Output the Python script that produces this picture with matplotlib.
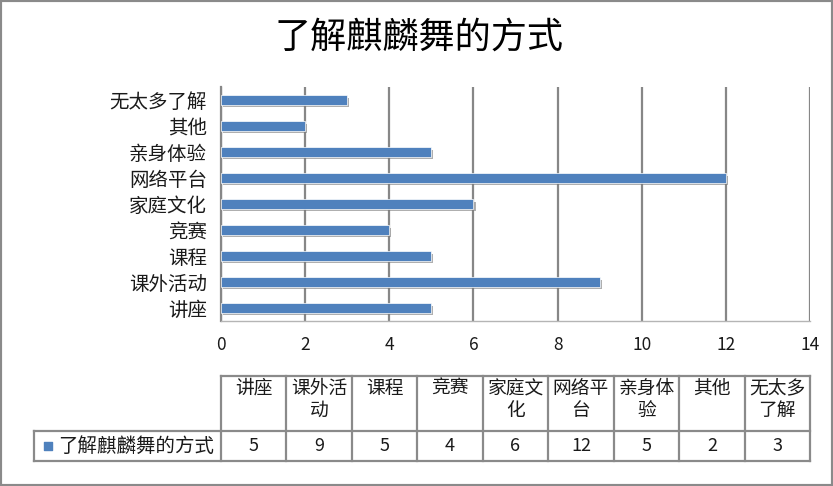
import matplotlib
matplotlib.use("Agg")
import matplotlib.pyplot as plt
from matplotlib import patheffects as pe
from matplotlib.patches import Rectangle

plt.rcParams['font.family'] = ['Noto Sans CJK SC', 'DejaVu Sans']

# data
title = '了解麒麟舞的方式'
series_name = '了解麒麟舞的方式'
categories = ['讲座', '课外活动', '课程', '竞赛', '家庭文化', '网络平台', '亲身体验', '其他', '无太多了解']
header_labels = ['讲座', '课外活\n动', '课程', '竞赛', '家庭文\n化', '网络平\n台', '亲身体\n验', '其他', '无太多\n了解']
values = [5, 9, 5, 4, 6, 12, 5, 2, 3]
x_ticks = [0, 2, 4, 6, 8, 10, 12, 14]

W, H = 833, 486
fig = plt.figure(figsize=(W / 100, H / 100), dpi=100)


def fx(px):
    return px / W


def fy(py):
    return 1 - py / H


bar_color = '#4F81BD'
grid_col = '#878787'
txt_col = '#1a1a1a'

# plot area (pixel box of the reference)
L, R, T, B = 221, 810, 87, 321
ax = fig.add_axes([fx(L), fy(B), fx(R) - fx(L), fy(T) - fy(B)])
bars = ax.barh(range(len(categories)), values, height=0.36, color=bar_color,
               edgecolor='white', linewidth=0.5, zorder=3)
for b in bars:
    b.set_path_effects([pe.SimplePatchShadow(offset=(1.5, -1.8), shadow_rgbFace='#7a7a7a', alpha=0.6),
                        pe.Normal()])
ax.set_xlim(0, 14)
ax.set_ylim(-0.5, len(categories) - 0.5)
ax.set_xticks(x_ticks)
ax.set_xticklabels([str(t) for t in x_ticks], fontsize=12.5, color=txt_col)
ax.set_yticks(range(len(categories)))
ax.set_yticklabels(categories, fontsize=14, color=txt_col)
ax.tick_params(axis='x', length=0, pad=11)
ax.tick_params(axis='y', length=0, pad=10)
ax.xaxis.grid(True, color=grid_col, linewidth=1.6)
ax.set_axisbelow(True)
for s in ['top', 'right']:
    ax.spines[s].set_visible(False)
ax.spines['left'].set_color(grid_col)
ax.spines['left'].set_linewidth(1.6)
ax.spines['bottom'].set_color('#b5b5b5')
ax.spines['bottom'].set_linewidth(1.0)

# title
fig.text(fx(419), fy(38), title, fontsize=26, ha='center', va='center', color='black')

# data table under the chart
tL, tR, tTop, tMid, tBot, legL = 221, 810, 376, 431, 461, 34
tab = fig.add_axes([0, 0, 1, 1], zorder=-1)
tab.set_xlim(0, W)
tab.set_ylim(H, 0)
tab.axis('off')
n = len(categories)
cw = (tR - tL) / n
lc = '#8a8a8a'
lw = 1.6
tab.plot([tL, tR], [tTop, tTop], color=lc, lw=lw)
tab.plot([legL, tR], [tMid, tMid], color=lc, lw=lw)
tab.plot([legL, tR], [tBot, tBot], color=lc, lw=lw)
tab.plot([legL, legL], [tMid, tBot], color=lc, lw=lw)
for i in range(n + 1):
    x = tL + i * cw
    tab.plot([x, x], [tTop, tBot], color=lc, lw=lw)
for i, (lab, v) in enumerate(zip(header_labels, values)):
    cx = tL + (i + 0.5) * cw
    tab.text(cx, tTop + 2, lab, fontsize=13.5, ha='center', va='top', color=txt_col, linespacing=1.05)
    tab.text(cx, (tMid + tBot) / 2, str(v), fontsize=13, ha='center', va='center', color=txt_col)
tab.scatter([48], [(tMid + tBot) / 2], marker='s', s=32, color=bar_color)
tab.text(58, (tMid + tBot) / 2, series_name, fontsize=14, ha='left', va='center', color=txt_col)

# outer frame
fig.patches.append(Rectangle((0, 0), 1, 1, transform=fig.transFigure, fill=False,
                             edgecolor='#8a8a8a', linewidth=3))

fig.savefig('out.png', dpi=100, facecolor='white')
